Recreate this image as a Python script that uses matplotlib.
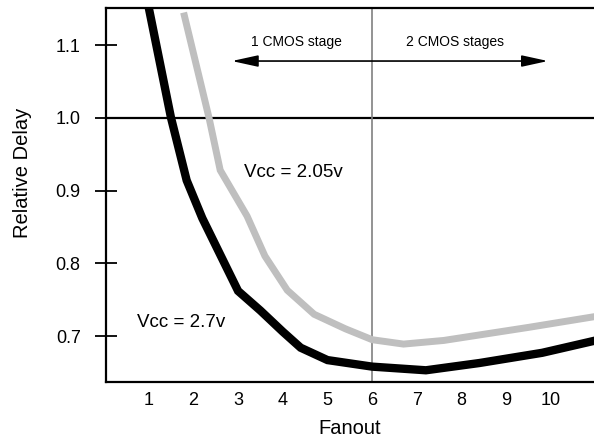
import numpy as np
import matplotlib.pyplot as plt

plt.rcParams['font.family'] = ['Liberation Sans', 'DejaVu Sans']

# Vcc = 2.7v curve (black)
fan_27 = [1.0, 1.5, 1.85, 2.2, 3.0, 3.5, 4.0, 4.4, 5.0, 6.0, 7.2, 8.4, 9.8, 11.0]
delay_27 = [1.152, 1.0, 0.914, 0.862, 0.762, 0.735, 0.706, 0.684, 0.667, 0.658, 0.653, 0.663, 0.677, 0.694]

# Vcc = 2.05v curve (grey)
fan_205 = [1.8, 2.35, 2.6, 3.2, 3.6, 4.1, 4.7, 5.4, 6.0, 6.7, 7.6, 9.5, 11.0]
delay_205 = [1.14, 1.0, 0.928, 0.865, 0.81, 0.763, 0.73, 0.71, 0.695, 0.689, 0.694, 0.712, 0.727]

xticks = list(range(1, 11))
yticks = [0.7, 0.8, 0.9, 1.0, 1.1]
ytick_labels = ['0.7', '0.8', '0.9', '1.0', '1.1']

fig = plt.figure(figsize=(5.94, 4.40), dpi=100)
ax = fig.add_axes([0.178, 0.132, 0.822, 0.850])

ax.axhline(1.0, color='black', lw=1.6, zorder=1)
ax.axvline(6, color='#808080', lw=1.2, zorder=1)

ax.plot(fan_205, delay_205, color='#bfbfbf', lw=5, solid_joinstyle='miter', zorder=2)
ax.plot(fan_27, delay_27, color='black', lw=6, solid_joinstyle='miter', zorder=3)

# stage arrow
ax.annotate('', xy=(2.86, 1.078), xytext=(9.93, 1.078),
            arrowprops=dict(arrowstyle='<|-|>,head_length=1.6,head_width=0.35',
                            color='black', lw=1.2, shrinkA=0, shrinkB=0))
ax.text(4.31, 1.104, '1 CMOS stage', fontsize=10, ha='center', va='center')
ax.text(7.85, 1.104, '2 CMOS stages', fontsize=10, ha='center', va='center')

ax.text(3.13, 0.925, 'Vcc = 2.05v', fontsize=13.5, ha='left', va='center')
ax.text(0.73, 0.719, 'Vcc = 2.7v', fontsize=13.5, ha='left', va='center')

ax.set_xlim(0.04, 10.96)
ax.set_ylim(0.637, 1.151)
ax.set_xticks(xticks)
ax.set_yticks(yticks)
ax.set_yticklabels(ytick_labels)
ax.tick_params(axis='x', length=0, labelsize=13, pad=7)
ax.tick_params(axis='y', direction='inout', length=16, width=1.3, labelsize=13, pad=10)

ax.spines['right'].set_visible(False)
for s in ['left', 'bottom', 'top']:
    ax.spines[s].set_linewidth(1.6)

ax.set_xlabel('Fanout', fontsize=14.5)
ax.xaxis.set_label_coords(0.5, -0.10)
ax.set_ylabel('Relative Delay', fontsize=14.5)
ax.yaxis.set_label_coords(-0.15, 0.56)

plt.savefig('out.png', dpi=100)
